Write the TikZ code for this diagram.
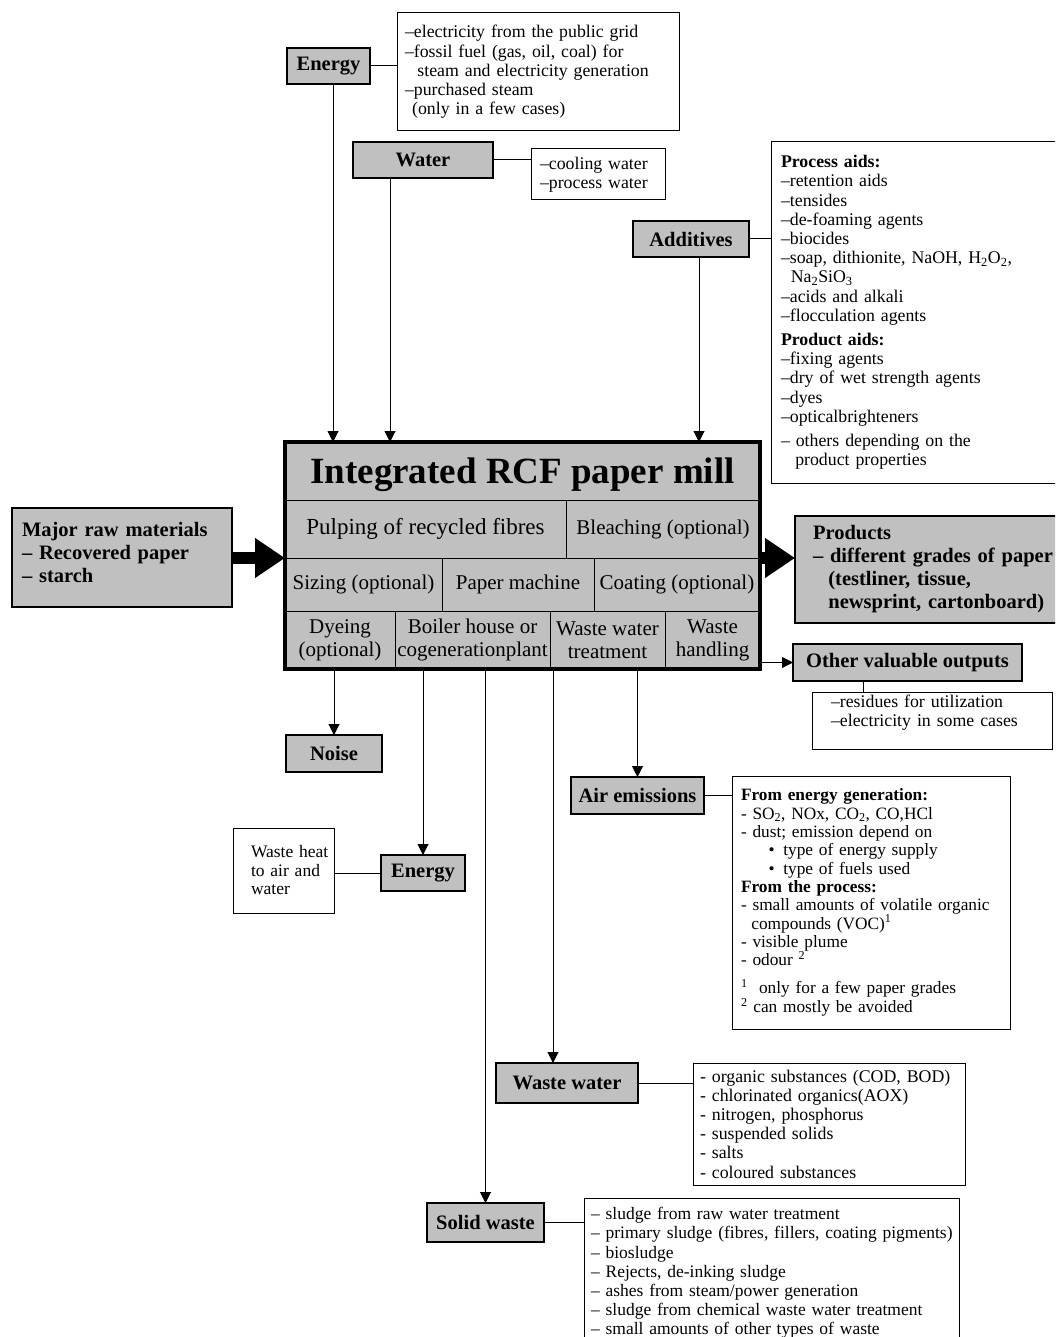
\documentclass[tikz,border=0pt]{standalone}
\usepackage{fontspec}
\setmainfont{Liberation Serif}
\usetikzlibrary{arrows.meta}
\definecolor{boxgray}{HTML}{C0C0C0}
\newcommand\myfs[2]{\fontsize{#1}{#2}\selectfont}
\begin{document}
\begin{tikzpicture}[x=1pt,y=-1pt,
  every node/.style={outer sep=0pt, inner sep=0pt, anchor=north west},
  gbox/.style={draw=black, fill=boxgray, line width=1.5pt, font=\myfs{20.5}{23}\bfseries},
  wbox/.style={draw=black, fill=white, line width=1pt, align=left, font=\myfs{17.8}{19.2}},
  cell/.style={draw=black, fill=boxgray, line width=0.8pt, align=center, font=\myfs{21}{23}},
  arr/.style={line width=1pt, -{Triangle[length=11pt,width=11pt]}},
  conn/.style={line width=1pt},
  fat/.style={line width=12pt, -{Triangle[length=30pt,width=38pt]}}]

\useasboundingbox (0,0) rectangle (1055,1337);
\clip (0,0) rectangle (1055,1337);

% ---------- inputs ----------
\node[gbox, minimum width=83pt, minimum height=36pt] (energyin) at (287,48) {Energy};
\node[wbox, minimum width=282pt, minimum height=118pt, text width=266pt] (energyd) at (397,13)
 {–electricity from the public grid\\
  –fossil fuel (gas, oil, coal) for\\
  \hspace*{0.7em}steam and electricity generation\\
  –purchased steam\\
  \hspace*{0.4em}(only in a few cases)};

\node[gbox, minimum width=140pt, minimum height=36pt] (water) at (353,142) {Water};
\node[wbox, minimum width=134pt, minimum height=51pt, text width=116pt] (waterd) at (531,149)
 {–cooling water\\–process water};

\node[gbox, minimum width=116pt, minimum height=36pt] (additives) at (633,221) {Additives};
\node[wbox, minimum width=300pt, minimum height=341pt, text width=280pt] (addd) at (771,142)
 {\textbf{Process aids:}\\
  –retention aids\\
  –tensides\\
  –de-foaming agents\\
  –biocides\\
  –soap, dithionite, NaOH, H\textsubscript{2}O\textsubscript{2},\\
  \hspace*{0.55em}Na\textsubscript{2}SiO\textsubscript{3}\\
  –acids and alkali\\
  –flocculation agents\\[5pt]
  \textbf{Product aids:}\\
  –fixing agents\\
  –dry of wet strength agents\\
  –dyes\\
  –opticalbrighteners\\[5pt]
  – others depending on the\\
  \hspace*{0.8em}product properties};

\node[gbox, line width=2.5pt, minimum width=220pt, minimum height=99pt, text width=200pt, align=left] (raw) at (12,508)
 {Major raw materials\\– Recovered paper\\– starch\\[-13pt]\mbox{}};

% ---------- mill ----------
\node[cell, minimum width=475pt, minimum height=58pt, text depth=0pt, font=\myfs{37}{40}\bfseries] (title) at (285,442) {Integrated RCF paper mill};
\node[cell, minimum width=281pt, minimum height=58pt, font=\myfs{23}{25}] (pulp) at (285,500) {Pulping of recycled fibres};
\node[cell, minimum width=194pt, minimum height=58pt] (bleach) at (566,500) {Bleaching (optional)};
\node[cell, minimum width=157pt, minimum height=53pt] (sizing) at (285,558) {Sizing (optional)};
\node[cell, minimum width=152pt, minimum height=53pt] (papm) at (442,558) {Paper machine};
\node[cell, minimum width=166pt, minimum height=53pt] (coat) at (594,558) {Coating (optional)};
\node[cell, minimum width=110pt, minimum height=58pt] (dye) at (285,611) {Dyeing\\(optional)};
\node[cell, minimum width=155pt, minimum height=58pt] (boiler) at (395,611) {Boiler house or\\cogenerationplant};
\node[cell, minimum width=115pt, minimum height=58pt] (wwt) at (550,611) {Waste water\\treatment};
\node[cell, minimum width=95pt, minimum height=58pt] (wh) at (665,611) {Waste\\handling};
\node[draw=black, line width=4.5pt, minimum width=475pt, minimum height=227pt] (mill) at (285,442) {};

% ---------- outputs ----------
\node[gbox, line width=2.5pt, minimum width=290pt, minimum height=107pt, text width=254pt, align=left] (products) at (795,516)
 {Products\\– different grades of paper\\\hspace*{0.75em}(testliner, tissue,\\\hspace*{0.75em}newsprint, cartonboard)};

\node[gbox, minimum width=229pt, minimum height=37pt] (other) at (793,644) {Other valuable outputs};
\node[wbox, minimum width=240pt, minimum height=57pt, text width=202pt] (otherd) at (812,692)
 {–residues for utilization\\–electricity in some cases\\\mbox{}};

\node[gbox, minimum width=96pt, minimum height=37pt] (noise) at (286,735) {Noise};
\node[gbox, minimum width=84pt, minimum height=36pt] (energyout) at (381,855) {Energy};
\node[wbox, minimum width=101pt, minimum height=85pt, text width=65pt, font=\myfs{17.5}{18.5}] (heat) at (233,828)
 {\mbox{Waste heat}\\\mbox{to air and}\\water};

\node[gbox, minimum width=133pt, minimum height=37pt] (air) at (571,777) {Air emissions};
\node[wbox, minimum width=278pt, minimum height=253pt, text width=260pt, font=\myfs{17.3}{18.3}] (aird) at (732,776)
 {\textbf{From energy generation:}\\
  - SO\textsubscript{2}, NOx, CO\textsubscript{2}, CO,HCl\\
  - dust; emission depend on\\
  \hspace*{1.6em}•\hspace{0.5em}type of energy supply\\
  \hspace*{1.6em}•\hspace{0.5em}type of fuels used\\
  \textbf{From the process:}\\
  - small amounts of volatile organic\\
  \hspace*{0.6em}compounds (VOC)\textsuperscript{1}\\
  - visible plume\\
  - odour \textsuperscript{2}\\[10pt]
  \textsuperscript{1} \ only for a few paper grades\\
  \textsuperscript{2} can mostly be avoided};

\node[gbox, minimum width=142pt, minimum height=40pt] (ww) at (496,1063) {Waste water};
\node[wbox, minimum width=272pt, minimum height=122pt, text width=258pt] (wwd) at (693,1063)
 {- organic substances (COD, BOD)\\
  - chlorinated organics(AOX)\\
  - nitrogen, phosphorus\\
  - suspended solids\\
  - salts\\
  - coloured substances};

\node[gbox, minimum width=117pt, minimum height=39pt] (solid) at (427,1203) {Solid waste};
\node[wbox, minimum width=375pt, minimum height=150pt, text width=361pt, font=\myfs{17.5}{19.2}] (solidd) at (584,1198)
 {– sludge from raw water treatment\\
  \mbox{– primary sludge (fibres, fillers, coating pigments)}\\
  – biosludge\\
  – Rejects, de-inking sludge\\
  – ashes from steam/power generation\\
  – sludge from chemical waste water treatment\\
  – small amounts of other types of waste};

% ---------- connectors ----------
\coordinate (eA) at ([xshift=4.5pt]energyin.south);
\draw[arr] (eA) -- (eA |- mill.north);
\coordinate (wA) at ([xshift=-33pt]water.south);
\draw[arr] (wA) -- (wA |- mill.north);
\coordinate (aA) at ([xshift=8pt]additives.south);
\draw[arr] (aA) -- (aA |- mill.north);

\draw[conn] (energyin.east) -- (energyin.east -| energyd.west);
\draw[conn] (water.east) -- (water.east -| waterd.west);
\draw[conn] (additives.east) -- (additives.east -| addd.west);

\draw[fat] (raw.east |- pulp.south) -- (pulp.south -| mill.west);
\draw[fat] (bleach.south -| mill.east) -- (bleach.south -| products.west);
\draw[arr] (other.west -| mill.east) -- (other.west);
\coordinate (oA) at ([xshift=-44.5pt]other.south);
\draw[conn] (oA) -- (oA |- otherd.north);

\draw[arr] (noise.north |- mill.south) -- (noise.north);
\draw[arr] (energyout.north |- mill.south) -- (energyout.north);
\draw[conn] (heat.east |- energyout.west) -- (energyout.west);
\draw[arr] (solid.north |- mill.south) -- (solid.north);
\coordinate (wwA) at ([xshift=-14pt]ww.north);
\draw[arr] (wwA |- mill.south) -- (wwA);
\draw[arr] (air.north |- mill.south) -- (air.north);

\draw[conn] (air.east) -- (air.east -| aird.west);
\draw[conn] (ww.east) -- (ww.east -| wwd.west);
\draw[conn] (solid.east) -- (solid.east -| solidd.west);
\end{tikzpicture}
\end{document}
